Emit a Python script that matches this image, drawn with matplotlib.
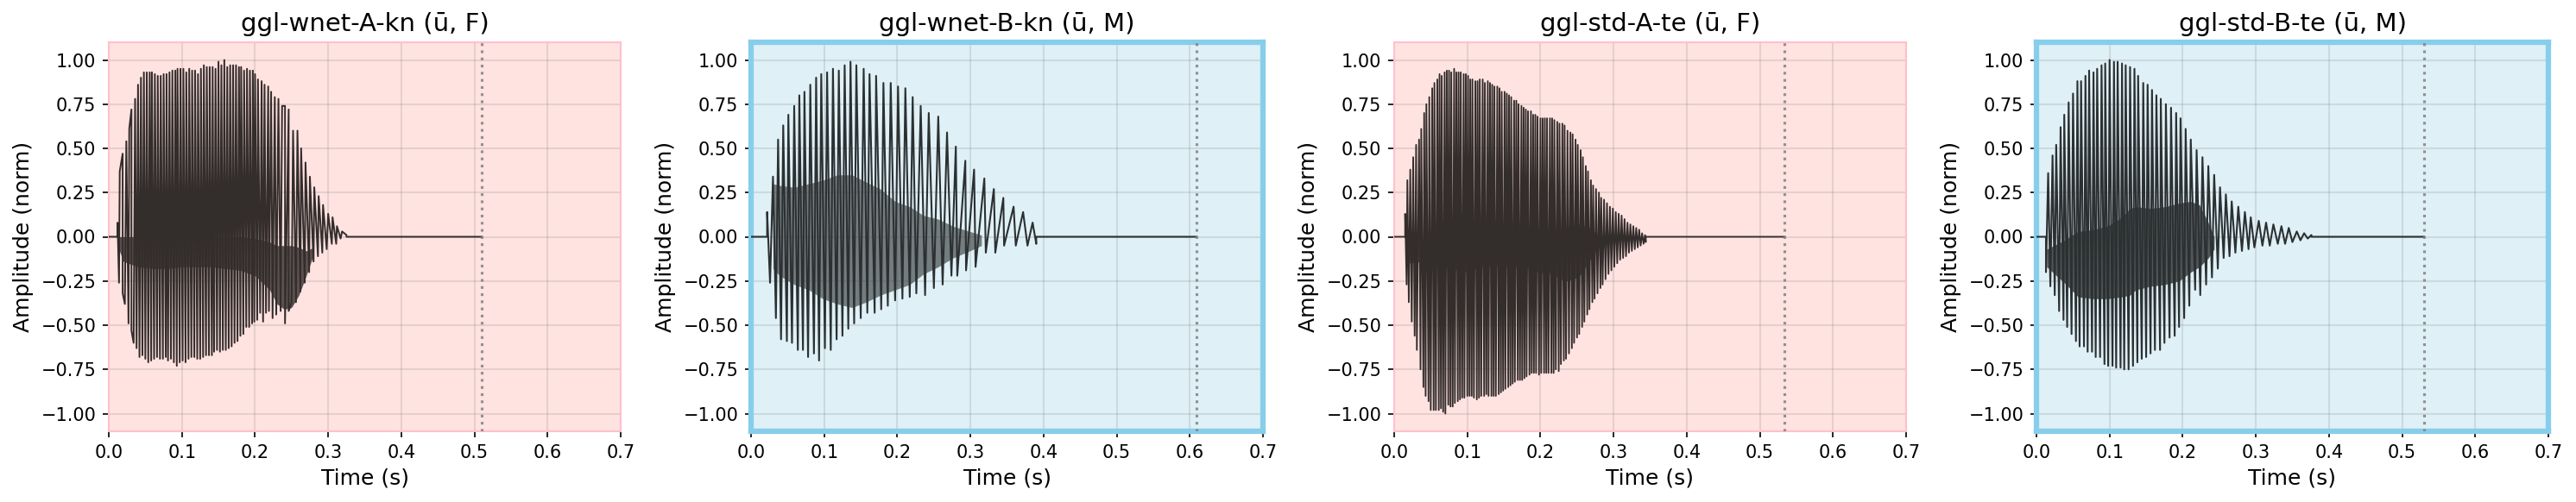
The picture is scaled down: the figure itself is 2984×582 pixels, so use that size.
import numpy as np
import matplotlib
matplotlib.use("Agg")
import matplotlib.pyplot as plt

# ---- data (per glottal pulse: peak / trough, seconds & norm. amplitude)

titles = ["ggl-wnet-A-kn (ū, F)", "ggl-wnet-B-kn (ū, M)",
          "ggl-std-A-te (ū, F)", "ggl-std-B-te (ū, M)"]
speaker = ["F", "M", "F", "M"]
clip_end = [0.510, 0.609, 0.534, 0.530]

# panel 1: ggl-wnet-A-kn
p1_peak_t = [0.012, 0.015, 0.019, 0.024, 0.028, 0.031, 0.036, 0.040, 0.044, 0.048,
             0.052, 0.056, 0.059, 0.063, 0.067, 0.071, 0.075, 0.079, 0.083, 0.087,
             0.091, 0.094, 0.098, 0.102, 0.106, 0.110, 0.114, 0.118, 0.122, 0.126,
             0.130, 0.134, 0.138, 0.142, 0.146, 0.150, 0.154, 0.158, 0.162, 0.166,
             0.170, 0.174, 0.178, 0.181, 0.185, 0.189, 0.193, 0.197, 0.200, 0.204,
             0.209, 0.213, 0.218, 0.222, 0.227, 0.232, 0.237, 0.241, 0.246, 0.252,
             0.258, 0.263, 0.269, 0.275, 0.281, 0.287, 0.293, 0.300, 0.306, 0.312,
             0.319, 0.325]
p1_peak_v = [0.08, 0.37, 0.47, 0.54, 0.61, 0.72, 0.78, 0.86, 0.90, 0.93,
             0.93, 0.93, 0.93, 0.92, 0.91, 0.91, 0.92, 0.92, 0.93, 0.94,
             0.94, 0.95, 0.95, 0.95, 0.93, 0.95, 0.94, 0.94, 0.92, 0.95,
             0.97, 0.96, 0.96, 0.96, 0.95, 0.99, 0.97, 1.00, 0.96, 0.97,
             0.97, 0.97, 0.96, 0.96, 0.94, 0.95, 0.94, 0.94, 0.92, 0.89,
             0.88, 0.86, 0.85, 0.82, 0.79, 0.78, 0.74, 0.74, 0.72, 0.60,
             0.60, 0.50, 0.42, 0.34, 0.28, 0.23, 0.18, 0.13, 0.11, 0.06,
             0.03, 0.01]
p1_trough_t = [0.014, 0.019, 0.022, 0.027, 0.031, 0.034, 0.038, 0.042, 0.046, 0.050,
               0.054, 0.058, 0.062, 0.066, 0.070, 0.074, 0.078, 0.081, 0.085, 0.089,
               0.093, 0.097, 0.101, 0.105, 0.109, 0.113, 0.117, 0.121, 0.125, 0.129,
               0.133, 0.137, 0.141, 0.144, 0.148, 0.152, 0.156, 0.160, 0.164, 0.168,
               0.172, 0.176, 0.180, 0.184, 0.188, 0.192, 0.196, 0.199, 0.203, 0.207,
               0.211, 0.215, 0.219, 0.224, 0.229, 0.235, 0.241, 0.246, 0.250, 0.256,
               0.262, 0.268, 0.274, 0.280, 0.286, 0.292, 0.298, 0.305, 0.311, 0.317]
p1_trough_v = [-0.26, -0.32, -0.38, -0.49, -0.53, -0.60, -0.63, -0.68, -0.67, -0.69,
               -0.71, -0.70, -0.69, -0.68, -0.69, -0.69, -0.68, -0.70, -0.69, -0.71,
               -0.73, -0.71, -0.70, -0.71, -0.69, -0.68, -0.68, -0.69, -0.69, -0.68,
               -0.67, -0.67, -0.67, -0.65, -0.64, -0.65, -0.64, -0.64, -0.63, -0.62,
               -0.60, -0.59, -0.56, -0.55, -0.51, -0.51, -0.49, -0.48, -0.47, -0.43,
               -0.48, -0.43, -0.42, -0.46, -0.44, -0.42, -0.49, -0.42, -0.37, -0.37,
               -0.31, -0.26, -0.20, -0.14, -0.11, -0.09, -0.07, -0.04, -0.04, -0.01]
p1_band_t = [0.012, 0.020, 0.040, 0.060, 0.080, 0.100, 0.120, 0.140, 0.160,
             0.180, 0.200, 0.220, 0.230, 0.240, 0.250, 0.260, 0.270, 0.280]
p1_band_hi = [0.00, 0.00, 0.00, 0.00, 0.00, 0.00, 0.00, 0.00, 0.00,
              0.00, -0.01, -0.03, -0.05, -0.05, -0.05, -0.06, -0.08, -0.06]
p1_band_lo = [-0.05, -0.14, -0.17, -0.18, -0.18, -0.17, -0.17, -0.17, -0.18,
              -0.19, -0.22, -0.30, -0.38, -0.41, -0.40, -0.33, -0.22, -0.10]

# panel 2: ggl-wnet-B-kn
p2_peak_t = [0.022, 0.030, 0.037, 0.044, 0.051, 0.059, 0.066, 0.073, 0.081, 0.089,
             0.096, 0.104, 0.112, 0.120, 0.128, 0.136, 0.144, 0.154, 0.162, 0.171,
             0.181, 0.191, 0.201, 0.211, 0.221, 0.232, 0.243, 0.256, 0.268, 0.280,
             0.293, 0.305, 0.319, 0.332, 0.345, 0.359, 0.372, 0.385]
p2_peak_v = [0.14, 0.34, 0.55, 0.63, 0.69, 0.74, 0.80, 0.82, 0.86, 0.90,
             0.92, 0.93, 0.95, 0.94, 0.97, 0.99, 0.97, 0.95, 0.92, 0.91,
             0.87, 0.87, 0.85, 0.84, 0.79, 0.74, 0.70, 0.68, 0.59, 0.51,
             0.43, 0.38, 0.33, 0.27, 0.22, 0.17, 0.14, 0.08]
p2_trough_t = [0.026, 0.034, 0.041, 0.049, 0.056, 0.064, 0.071, 0.078, 0.086, 0.093,
               0.101, 0.109, 0.117, 0.125, 0.133, 0.141, 0.150, 0.159, 0.169, 0.178,
               0.187, 0.197, 0.207, 0.217, 0.226, 0.238, 0.250, 0.262, 0.274, 0.282,
               0.294, 0.307, 0.321, 0.334, 0.346, 0.362, 0.378, 0.390]
p2_trough_v = [-0.26, -0.46, -0.58, -0.59, -0.60, -0.64, -0.64, -0.68, -0.66, -0.70,
               -0.63, -0.64, -0.58, -0.56, -0.52, -0.49, -0.46, -0.43, -0.43, -0.41,
               -0.39, -0.36, -0.35, -0.34, -0.32, -0.33, -0.29, -0.27, -0.22, -0.22,
               -0.19, -0.17, -0.09, -0.09, -0.05, -0.05, -0.05, -0.04]
p2_band_t = [0.030, 0.039, 0.059, 0.079, 0.098, 0.118, 0.138, 0.157,
             0.177, 0.197, 0.217, 0.236, 0.256, 0.276, 0.299, 0.315]
p2_band_hi = [0.30, 0.29, 0.28, 0.30, 0.32, 0.35, 0.35, 0.31,
              0.27, 0.20, 0.17, 0.12, 0.10, 0.06, 0.03, 0.01]
p2_band_lo = [-0.18, -0.22, -0.27, -0.30, -0.35, -0.38, -0.40, -0.37,
              -0.33, -0.30, -0.27, -0.21, -0.17, -0.12, -0.08, -0.05]

# panel 3: ggl-std-A-te
p3_peak_t = [0.015, 0.018, 0.022, 0.026, 0.030, 0.034, 0.037, 0.041, 0.044, 0.048,
             0.052, 0.055, 0.059, 0.062, 0.065, 0.069, 0.072, 0.075, 0.078, 0.082,
             0.085, 0.088, 0.091, 0.095, 0.098, 0.101, 0.104, 0.107, 0.111, 0.114,
             0.117, 0.121, 0.124, 0.128, 0.131, 0.134, 0.137, 0.141, 0.144, 0.147,
             0.151, 0.154, 0.157, 0.160, 0.164, 0.167, 0.170, 0.174, 0.177, 0.180,
             0.183, 0.187, 0.190, 0.193, 0.196, 0.200, 0.203, 0.206, 0.209, 0.213,
             0.216, 0.219, 0.223, 0.226, 0.230, 0.233, 0.237, 0.241, 0.244, 0.248,
             0.251, 0.255, 0.258, 0.262, 0.265, 0.269, 0.272, 0.276, 0.280, 0.283,
             0.287, 0.291, 0.295, 0.299, 0.303, 0.307, 0.311, 0.315, 0.319, 0.323,
             0.327, 0.331, 0.335, 0.339, 0.343]
p3_peak_v = [0.13, 0.32, 0.38, 0.45, 0.52, 0.55, 0.61, 0.70, 0.75, 0.79,
             0.84, 0.87, 0.89, 0.92, 0.91, 0.93, 0.94, 0.94, 0.93, 0.95,
             0.93, 0.93, 0.93, 0.92, 0.92, 0.91, 0.89, 0.89, 0.88, 0.88,
             0.89, 0.89, 0.87, 0.88, 0.87, 0.86, 0.85, 0.85, 0.84, 0.82,
             0.82, 0.81, 0.80, 0.79, 0.77, 0.77, 0.75, 0.74, 0.73, 0.72,
             0.71, 0.71, 0.69, 0.69, 0.68, 0.67, 0.67, 0.67, 0.67, 0.67,
             0.67, 0.66, 0.65, 0.64, 0.64, 0.63, 0.60, 0.59, 0.58, 0.55,
             0.52, 0.49, 0.45, 0.40, 0.37, 0.32, 0.29, 0.27, 0.25, 0.22,
             0.21, 0.19, 0.17, 0.16, 0.14, 0.13, 0.12, 0.10, 0.08, 0.07,
             0.06, 0.05, 0.04, 0.02, 0.01]
p3_trough_t = [0.017, 0.020, 0.024, 0.028, 0.031, 0.036, 0.040, 0.043, 0.047, 0.050,
               0.054, 0.057, 0.061, 0.064, 0.067, 0.070, 0.074, 0.077, 0.080, 0.083,
               0.087, 0.090, 0.093, 0.096, 0.100, 0.103, 0.106, 0.109, 0.113, 0.116,
               0.119, 0.123, 0.126, 0.129, 0.133, 0.136, 0.139, 0.143, 0.146, 0.149,
               0.152, 0.156, 0.159, 0.162, 0.165, 0.169, 0.172, 0.175, 0.178, 0.181,
               0.185, 0.188, 0.191, 0.194, 0.198, 0.201, 0.205, 0.208, 0.211, 0.215,
               0.218, 0.221, 0.225, 0.228, 0.232, 0.235, 0.239, 0.243, 0.246, 0.250,
               0.253, 0.257, 0.260, 0.264, 0.267, 0.271, 0.274, 0.278, 0.282, 0.285,
               0.289, 0.293, 0.297, 0.301, 0.305, 0.309, 0.313, 0.317, 0.321, 0.325,
               0.329, 0.333, 0.337, 0.341, 0.344]
p3_trough_v = [-0.27, -0.37, -0.48, -0.56, -0.64, -0.75, -0.85, -0.90, -0.93, -0.98,
               -0.98, -0.98, -0.98, -0.97, -0.99, -1.00, -0.95, -0.96, -0.96, -0.94,
               -0.93, -0.92, -0.91, -0.91, -0.90, -0.90, -0.90, -0.91, -0.92, -0.91,
               -0.90, -0.90, -0.89, -0.90, -0.90, -0.90, -0.90, -0.89, -0.88, -0.87,
               -0.86, -0.85, -0.84, -0.83, -0.82, -0.81, -0.81, -0.81, -0.80, -0.79,
               -0.78, -0.77, -0.77, -0.77, -0.78, -0.77, -0.77, -0.77, -0.77, -0.77,
               -0.77, -0.75, -0.76, -0.72, -0.70, -0.69, -0.66, -0.63, -0.60, -0.57,
               -0.55, -0.51, -0.48, -0.44, -0.41, -0.37, -0.35, -0.32, -0.29, -0.27,
               -0.24, -0.21, -0.19, -0.17, -0.15, -0.13, -0.12, -0.11, -0.09, -0.08,
               -0.07, -0.06, -0.05, -0.04, -0.03]
p3_band_t = [0.016, 0.039, 0.059, 0.079, 0.098, 0.118, 0.138, 0.157,
             0.177, 0.197, 0.217, 0.228, 0.236, 0.252, 0.268, 0.280]
p3_band_hi = [0.06, -0.02, -0.05, -0.04, -0.04, -0.02, 0.00, -0.01,
              -0.02, -0.02, 0.00, 0.04, 0.05, 0.07, 0.05, 0.00]
p3_band_lo = [-0.15, -0.14, -0.17, -0.18, -0.20, -0.17, -0.16, -0.17,
              -0.17, -0.20, -0.21, -0.24, -0.25, -0.23, -0.13, -0.05]

# panel 4: ggl-std-B-te
p4_peak_t = [0.016, 0.022, 0.027, 0.033, 0.038, 0.044, 0.050, 0.056, 0.061, 0.067,
             0.072, 0.078, 0.083, 0.089, 0.094, 0.100, 0.106, 0.111, 0.117, 0.122,
             0.128, 0.134, 0.139, 0.146, 0.152, 0.158, 0.164, 0.170, 0.177, 0.184,
             0.191, 0.197, 0.204, 0.211, 0.219, 0.227, 0.235, 0.243, 0.251, 0.259,
             0.267, 0.276, 0.285, 0.293, 0.304, 0.314, 0.324, 0.335, 0.345, 0.356,
             0.366, 0.376]
p4_peak_v = [0.36, 0.46, 0.52, 0.62, 0.69, 0.76, 0.81, 0.88, 0.88, 0.91,
             0.94, 0.93, 0.95, 0.97, 0.98, 1.00, 0.99, 0.99, 0.98, 0.97,
             0.96, 0.95, 0.91, 0.87, 0.86, 0.83, 0.80, 0.78, 0.75, 0.73,
             0.70, 0.67, 0.61, 0.55, 0.49, 0.45, 0.40, 0.35, 0.28, 0.24,
             0.20, 0.17, 0.14, 0.11, 0.09, 0.08, 0.07, 0.06, 0.05, 0.03,
             0.02, 0.01]
p4_trough_t = [0.013, 0.019, 0.025, 0.031, 0.037, 0.042, 0.048, 0.054, 0.059, 0.065,
               0.070, 0.076, 0.081, 0.087, 0.093, 0.098, 0.104, 0.109, 0.115, 0.120,
               0.126, 0.132, 0.138, 0.144, 0.150, 0.156, 0.162, 0.169, 0.175, 0.182,
               0.189, 0.195, 0.202, 0.209, 0.217, 0.224, 0.232, 0.240, 0.248, 0.256,
               0.264, 0.272, 0.281, 0.290, 0.298, 0.309, 0.319, 0.330, 0.340, 0.350,
               0.361, 0.371]
p4_trough_v = [-0.20, -0.28, -0.33, -0.42, -0.47, -0.51, -0.55, -0.59, -0.62, -0.62,
               -0.65, -0.65, -0.68, -0.68, -0.72, -0.73, -0.73, -0.74, -0.74, -0.75,
               -0.75, -0.73, -0.71, -0.69, -0.68, -0.66, -0.64, -0.64, -0.60, -0.57,
               -0.56, -0.51, -0.46, -0.39, -0.30, -0.33, -0.27, -0.23, -0.18, -0.12,
               -0.11, -0.09, -0.08, -0.07, -0.06, -0.05, -0.05, -0.04, -0.04, -0.03,
               -0.02, -0.01]
p4_band_t = [0.014, 0.038, 0.057, 0.077, 0.097, 0.117, 0.128, 0.136,
             0.156, 0.176, 0.195, 0.211, 0.223, 0.235, 0.243]
p4_band_hi = [-0.07, -0.02, 0.03, 0.04, 0.06, 0.11, 0.16, 0.17,
              0.16, 0.17, 0.19, 0.20, 0.18, 0.08, 0.00]
p4_band_lo = [-0.17, -0.26, -0.34, -0.35, -0.35, -0.34, -0.33, -0.30,
              -0.28, -0.27, -0.25, -0.20, -0.17, -0.12, -0.07]

peaks_t = [p1_peak_t, p2_peak_t, p3_peak_t, p4_peak_t]
peaks_v = [p1_peak_v, p2_peak_v, p3_peak_v, p4_peak_v]
troughs_t = [p1_trough_t, p2_trough_t, p3_trough_t, p4_trough_t]
troughs_v = [p1_trough_v, p2_trough_v, p3_trough_v, p4_trough_v]
bands_t = [p1_band_t, p2_band_t, p3_band_t, p4_band_t]
bands_hi = [p1_band_hi, p2_band_hi, p3_band_hi, p4_band_hi]
bands_lo = [p1_band_lo, p2_band_lo, p3_band_lo, p4_band_lo]

# ---- styling per speaker sex
face = {"F": "#ffe3e1", "M": "#dff0f7"}
edge = {"F": "#ffc0cb", "M": "#87ceeb"}
edge_lw = {"F": 1.0, "M": 3.0}
wave_col = {"F": "#332d2c", "M": "#2c3031"}
band_alpha = [0.8, 0.6, 0.8, 0.8]
wave_lw = [0.95, 1.0, 0.9, 1.0]

W, H, DPI = 2984, 582, 150
fig = plt.figure(figsize=(W / DPI, H / DPI), dpi=DPI)

ax_left = [126, 870, 1615, 2359]
ax_w, ax_top, ax_bot = 593, 49, 500

for i in range(4):
    s = speaker[i]
    ax = fig.add_axes([ax_left[i] / W, 1 - ax_bot / H, ax_w / W, (ax_bot - ax_top) / H])
    ax.set_facecolor(face[s])
    col = wave_col[s]

    # waveform: pulses joined peak -> trough -> next peak, flat before/after voicing
    t = np.concatenate([peaks_t[i], troughs_t[i]])
    v = np.concatenate([peaks_v[i], troughs_v[i]])
    order = np.argsort(t, kind="stable")
    t, v = t[order], v[order]
    t = np.concatenate([[0.0, t[0]], t, [t[-1], clip_end[i]]])
    v = np.concatenate([[0.0, 0.0], v, [0.0, 0.0]])

    ax.fill_between(bands_t[i], bands_lo[i], bands_hi[i], color=col,
                    alpha=band_alpha[i], lw=0, zorder=2)
    ax.plot(t, v, color=col, lw=wave_lw[i], zorder=3)

    ax.axvline(clip_end[i], color="gray", ls=":", lw=1.5, alpha=0.85, zorder=4)

    ax.set_xlim(0, 0.7)
    ax.set_ylim(-1.1, 1.1)
    ax.set_xticks(np.arange(0, 0.71, 0.1))
    ax.set_yticks(np.arange(-1.0, 1.01, 0.25))
    ax.set_yticklabels([f"{y:.2f}".replace("-", "\u2212") for y in np.arange(-1.0, 1.01, 0.25)])
    ax.set_xticklabels([f"{x:.1f}" for x in np.arange(0, 0.71, 0.1)])
    ax.tick_params(labelsize=10, length=3.5, width=0.8)
    ax.grid(True, color="gray", alpha=0.2, lw=1.0)
    ax.set_axisbelow(True)

    for sp in ax.spines.values():
        sp.set_color(edge[s])
        sp.set_linewidth(edge_lw[s])

    ax.set_title(titles[i], fontsize=14)
    ax.set_xlabel("Time (s)", fontsize=12)
    ax.set_ylabel("Amplitude (norm)", fontsize=12)

fig.savefig("out.png", dpi=DPI)
